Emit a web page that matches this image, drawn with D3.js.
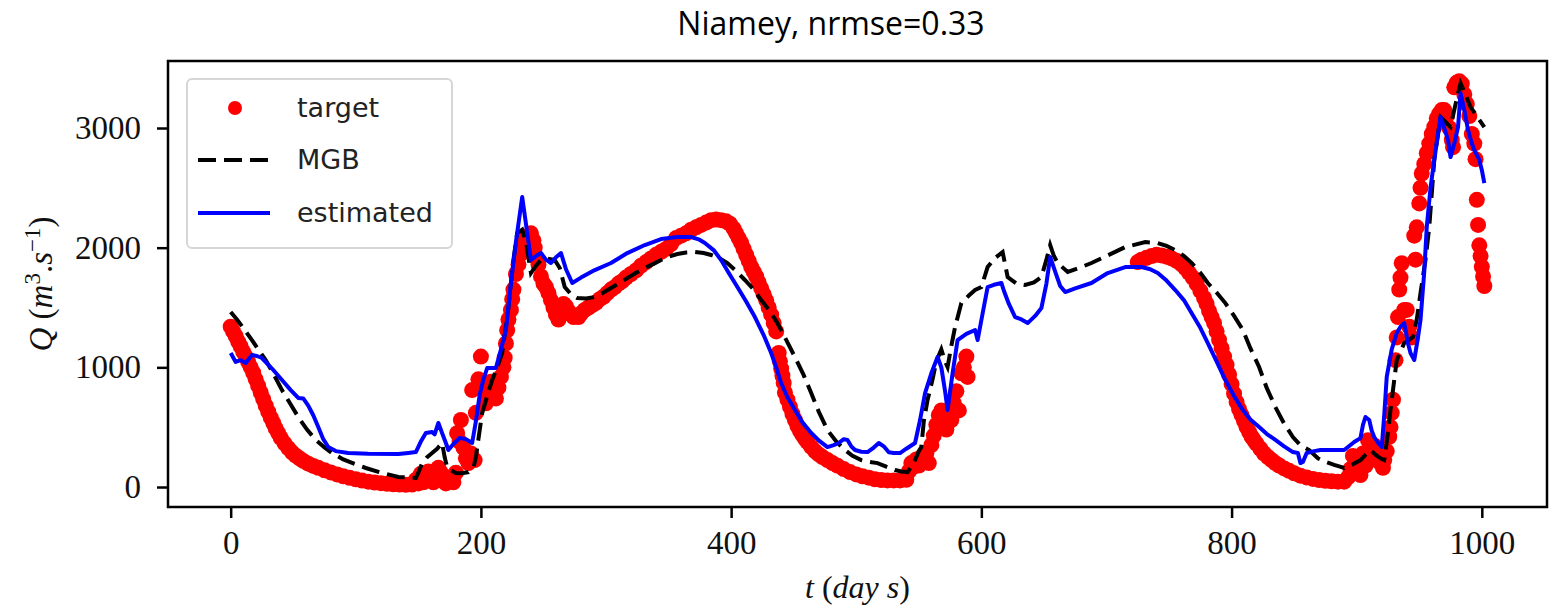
<!DOCTYPE html>
<html>
<head>
<meta charset="utf-8">
<script src="https://cdn.jsdelivr.net/npm/d3@7"></script>
<style>
  body { margin: 0; background: #fff; }
  svg { display: block; }
</style>
</head>
<body>
<div id="chart"></div>
<script>
var target = [
  [0,1340],[2,1300],[4,1260],[6,1215],[8,1175],[10,1130],[12,1090],[14,1045],[16,1000],[18,955],[20,900],[22,845],[24,790],[26,735],[28,680],[30,630],[32,580],[34,535],[36,490],[38,450],[40,410],[43,365],[46,325],[49,290],[52,262],[55,240],[58,218],[62,195],[66,176],[70,160],[75,140],[80,122],[85,105],[90,90],[95,77],[100,65],[105,54],[110,45],[115,38],[120,32],[125,27],[130,23],[135,20],[140,18],[145,20],
  [148,60],[150,30],[152,110],[154,40],[156,90],[158,130],[160,70],[162,40],[164,100],[166,160],[168,120],[170,60],[172,30],[174,50],[176,80],[178,40],[180,120],[181,450],[183,380],[184,560],[186,330],[188,240],[190,200],[192,280],[193,810],[195,225],[196,620],[198,900],[200,1090],[202,850],[204,700],[206,760],[208,880],[210,800],[212,740],[214,830],[216,920],[218,1000],[219,1080],[220,1200],[221,1310],[222,1400],[224,1480],[225,1570],[226,1650],[228,1780],[230,1860],[232,1950],[234,2030],[236,2080],[238,2100],[240,2120],[242,2060],[243,2000],[244,1920],[246,1860],[248,1760],[250,1700],[252,1670],[254,1620],[256,1560],[258,1500],[260,1440],[262,1400],[264,1480],[266,1530],[268,1510],[270,1470],[272,1440],[274,1420],[276,1430],[278,1420],[280,1450],[283,1480],[286,1500],[289,1520],[292,1540],[295,1570],[298,1590],[301,1620],[304,1650],[307,1670],[310,1700],[313,1720],[316,1750],[320,1780],[324,1810],[328,1850],[332,1880],[336,1910],[340,1940],[344,1965],[348,1990],[352,2030],[356,2080],[360,2100],[364,2120],[368,2150],[372,2170],[376,2190],[380,2210],[384,2230],[388,2235],[392,2230],[396,2220],[399,2200],[402,2160],[404,2120],[406,2080],[408,2040],[410,1990],[412,1940],[414,1890],[416,1840],[418,1800],[420,1760],[422,1710],[424,1660],[426,1610],[428,1560],[430,1500],[432,1440],[434,1370],[436,1300],[438,1120],[439,1050],[440,990],[441,930],[442,870],[443,790],[445,730],[447,670],[449,610],[451,560],[453,510],[455,470],[457,435],[459,405],[461,375],[464,335],[467,300],[470,272],[473,250],[477,225],[481,200],[485,178],[490,150],[495,125],[500,105],[505,90],[510,78],[515,65],[520,58],[525,55],[530,55],[535,55],[540,60],
  [542,130],[544,200],[546,170],[548,230],[550,180],[552,250],[554,210],[556,280],[558,200],[560,350],[562,430],[564,520],[566,600],[568,640],[570,560],[572,480],[574,620],[576,560],[578,700],[580,800],[582,640],[584,950],[586,1000],[588,1090],[589,920],
  [725,1880],[728,1900],[732,1915],[736,1930],[740,1940],[744,1935],[748,1925],[752,1910],[756,1890],[760,1860],[763,1830],[766,1790],[769,1750],[772,1700],[775,1640],[778,1580],[780,1530],[782,1470],[784,1420],[786,1370],[788,1300],[790,1230],[792,1160],[794,1090],[796,1020],[798,940],[800,860],[802,780],[804,710],[806,650],[808,600],[810,550],[812,500],[814,460],[816,420],[818,390],[820,360],[823,320],[826,280],[829,250],[832,225],[835,200],[838,180],[842,155],[846,135],[850,115],[855,95],[860,80],[865,68],[870,58],[875,52],[880,48],[885,45],[890,45],
  [893,80],[895,150],[897,260],[899,120],[901,200],[903,100],[905,280],[907,180],[909,390],[911,300],[913,230],[915,340],[917,260],[919,200],[921,160],[922,225],[924,300],[926,420],[927,500],[928,620],[929,730],[931,1060],[932,1250],[933,1420],[934,1650],[935,1750],[936,1870],[938,1480],[940,1480],[942,1340],[944,1250],[946,2100],[947,1900],[948,2170],[950,2370],[951,2500],[952,2620],[954,2700],[956,2790],[958,2870],[960,2950],[962,3010],[964,3080],[966,3120],[968,3150],[970,3150],[972,3100],[974,3000],[976,2900],[977,2840],[978,3340],[980,3380],[982,3390],[984,3370],[986,3280],[988,3200],[990,3100],[992,2950],[994,2870],[995,2740],[996,2400],[997,2190],[998,2020],[999,1930],[1000,1840],[1001,1760],[1002,1680]
];

// MGB model run
var mgb = [
  [0,1462],[5,1400],[10,1330],[17,1228],[22,1150],[28,1061],[35,930],[41,810],[48,690],[54,585],[61,480],[68,393],[75,330],[81,284],[90,230],[100,190],[108,159],[120,120],[134,84],[148,75],[150,120],[153,200],[157,250],[161,284],[165,320],[169,368],[171,250],[173,167],[176,140],[180,117],[185,115],[190,125],[194,160],[196,250],[198,400],[201,618],[205,760],[209,894],[213,1000],[217,1120],[222,1500],[226,1900],[229,2122],[233,2150],[236,2050],[240,1788],[244,1850],[248,1897],[253,1910],[259,1897],[263,1830],[267,1671],[272,1610],[277,1579],[284,1575],[291,1588],[297,1620],[304,1663],[310,1700],[317,1746],[324,1790],[331,1830],[338,1865],[344,1897],[350,1925],[357,1947],[364,1960],[371,1964],[378,1955],[384,1939],[391,1910],[397,1872],[404,1805],[411,1730],[418,1650],[424,1562],[431,1470],[437,1370],[444,1230],[451,1086],[458,935],[464,785],[470,630],[477,476],[484,380],[491,309],[497,260],[504,225],[510,210],[517,200],[524,170],[531,142],[536,130],[541,125],[544,170],[547,225],[550,300],[552,334],[554,550],[557,727],[561,900],[564,1050],[568,1150],[571,1050],[573,1003],[576,1180],[579,1337],[584,1537],[590,1600],[595,1646],[600,1671],[605,1838],[611,1914],[617,1964],[621,1755],[628,1700],[635,1688],[642,1710],[648,1755],[652,1900],[655,2022],[658,1930],[661,1872],[669,1797],[678,1830],[688,1872],[700,1930],[715,2005],[731,2047],[741,2039],[748,2015],[755,1980],[762,1930],[768,1872],[775,1790],[781,1705],[788,1625],[795,1537],[802,1430],[809,1312],[815,1160],[822,1003],[828,830],[835,668],[842,530],[849,418],[855,350],[862,309],[869,240],[875,210],[882,185],[890,159],[897,190],[903,225],[908,280],[911,309],[915,270],[919,240],[922,225],[925,450],[927,643],[932,1061],[938,1203],[945,1253],[948,1400],[951,1621],[955,1900],[958,2173],[962,2733],[967,3092],[971,3050],[975,3008],[979,3200],[983,3375],[987,3280],[991,3175],[996,3100],[1002,3008]
];

// estimated discharge
var estimated = [
  [0,1120],[4,1045],[8,1060],[12,1036],[17,1103],[21,1095],[25,1078],[33,990],[41,894],[48,810],[54,744],[58,740],[62,680],[66,600],[70,501],[74,400],[78,334],[84,300],[94,284],[110,278],[134,276],[142,285],[148,292],[152,380],[156,451],[161,460],[163,440],[166,535],[169,450],[172,368],[174,309],[178,360],[183,409],[188,400],[193,368],[196,550],[199,769],[202,900],[205,994],[212,994],[216,1150],[220,1312],[224,1705],[228,2050],[233,2423],[236,2200],[240,1897],[244,1930],[248,1955],[252,1900],[256,1872],[260,1920],[264,1955],[268,1820],[273,1705],[280,1750],[291,1813],[304,1872],[317,1955],[331,2022],[344,2072],[357,2089],[368,2089],[374,2070],[379,2039],[386,1980],[392,1897],[398,1790],[405,1671],[412,1550],[419,1420],[426,1270],[432,1120],[436,1000],[440,869],[445,750],[451,643],[457,540],[464,451],[470,390],[477,334],[482,350],[486,368],[490,400],[493,393],[496,340],[499,309],[504,295],[509,292],[514,330],[518,368],[522,340],[526,290],[530,284],[535,284],[540,320],[547,368],[551,560],[555,785],[560,950],[565,1086],[568,1000],[571,800],[573,643],[577,950],[581,1228],[588,1280],[595,1312],[597,1228],[601,1450],[605,1671],[610,1690],[616,1705],[618,1640],[622,1530],[627,1420],[632,1400],[637,1370],[643,1430],[648,1496],[652,1700],[655,1922],[659,1800],[663,1680],[667,1629],[675,1660],[688,1705],[701,1788],[715,1838],[728,1838],[735,1820],[741,1788],[748,1725],[755,1646],[762,1560],[768,1454],[775,1330],[781,1203],[788,1050],[795,894],[802,760],[809,643],[815,565],[822,501],[828,445],[835,393],[842,340],[849,292],[853,284],[855,200],[857,209],[860,284],[866,300],[871,309],[880,310],[890,309],[898,376],[903,409],[905,520],[907,585],[910,560],[912,470],[914,418],[917,370],[920,334],[922,600],[924,920],[928,1150],[932,1287],[935,1340],[938,1370],[941,1200],[943,1120],[946,1061],[949,1250],[951,1395],[954,1800],[956,2173],[959,2500],[962,2733],[965,2950],[967,3092],[970,3000],[973,2900],[975,2757],[978,2870],[981,3008],[983,3292],[986,3150],[989,2983],[992,2870],[994,2816],[998,2733],[1000,2650],[1002,2540]
];

var xTicks = [0, 200, 400, 600, 800, 1000];
var yTicks = [0, 1000, 2000, 3000];
var legendLabels = ['target', 'MGB', 'estimated'];

var width = 1555, height = 613;
var plot = { left: 168, right: 1547, top: 61, bottom: 507 };
var serif = "'Liberation Serif', 'DejaVu Serif', serif";

var svg = d3.select('#chart').append('svg')
    .attr('width', width)
    .attr('height', height);

var x = d3.scaleLinear().domain([-50.1, 1052.1]).range([plot.left, plot.right]);
var y = d3.scaleLinear().domain([-167, 3560]).range([plot.bottom, plot.top]);

// title
svg.append('text')
    .attr('x', 831).attr('y', 35)
    .attr('text-anchor', 'middle')
    .attr('font-family', "'Open Sans', sans-serif")
    .attr('font-size', 32)
    .attr('fill', '#000')
    .text('Niamey, nrmse=0.33');

// clip for the marks
svg.append('defs').append('clipPath').attr('id', 'clip')
    .append('rect')
    .attr('x', plot.left).attr('y', plot.top)
    .attr('width', plot.right - plot.left).attr('height', plot.bottom - plot.top);

var marks = svg.append('g').attr('clip-path', 'url(#clip)');

// target scatter
marks.append('g').selectAll('circle')
    .data(target)
    .enter().append('circle')
    .attr('cx', function (d) { return x(d[0]); })
    .attr('cy', function (d) { return y(d[1]); })
    .attr('r', 8)
    .attr('fill', '#ff0000');

var line = d3.line()
    .x(function (d) { return x(d[0]); })
    .y(function (d) { return y(d[1]); });

// MGB dashed
marks.append('path')
    .datum(mgb)
    .attr('d', line)
    .attr('fill', 'none')
    .attr('stroke', '#000')
    .attr('stroke-width', 4)
    .attr('stroke-dasharray', '18,8');

// estimated
marks.append('path')
    .datum(estimated)
    .attr('d', line)
    .attr('fill', 'none')
    .attr('stroke', '#0000ff')
    .attr('stroke-width', 4)
    .attr('stroke-linejoin', 'round');

// axes
var gx = svg.append('g')
    .attr('transform', 'translate(0,' + plot.bottom + ')')
    .call(d3.axisBottom(x).tickValues(xTicks).tickSize(11).tickPadding(13).tickFormat(d3.format('d')));
gx.select('.domain').remove();
gx.selectAll('line').attr('stroke', '#000').attr('stroke-width', 2.5);
gx.selectAll('text').attr('font-family', serif).attr('font-size', 33).attr('fill', '#111');

var gy = svg.append('g')
    .attr('transform', 'translate(' + plot.left + ',0)')
    .call(d3.axisLeft(y).tickValues(yTicks).tickSize(11).tickPadding(16).tickFormat(d3.format('d')));
gy.select('.domain').remove();
gy.selectAll('line').attr('stroke', '#000').attr('stroke-width', 2.5);
gy.selectAll('text').attr('font-family', serif).attr('font-size', 33).attr('fill', '#111');

// frame
svg.append('rect')
    .attr('x', plot.left).attr('y', plot.top)
    .attr('width', plot.right - plot.left).attr('height', plot.bottom - plot.top)
    .attr('fill', 'none')
    .attr('stroke', '#000')
    .attr('stroke-width', 2.5);

// axis labels
var xl = svg.append('text')
    .attr('x', (plot.left + plot.right) / 2).attr('y', 598)
    .attr('text-anchor', 'middle')
    .attr('font-family', serif)
    .attr('font-size', 32)
    .attr('fill', '#111');
xl.append('tspan').attr('font-style', 'italic').text('t');
xl.append('tspan').text(' (');
xl.append('tspan').attr('font-style', 'italic').text('day s');
xl.append('tspan').text(')');

var yl = svg.append('text')
    .attr('transform', 'translate(52,284) rotate(-90)')
    .attr('text-anchor', 'middle')
    .attr('font-family', serif)
    .attr('font-size', 33)
    .attr('fill', '#111');
yl.append('tspan').attr('font-style', 'italic').text('Q');
yl.append('tspan').text(' (');
yl.append('tspan').attr('font-style', 'italic').text('m');
yl.append('tspan').attr('font-size', 23).attr('dy', -12).text('3');
yl.append('tspan').attr('dy', 12).text('.');
yl.append('tspan').attr('font-style', 'italic').text('s');
yl.append('tspan').attr('font-size', 23).attr('dy', -12).text('\u22121');
yl.append('tspan').attr('dy', 12).text(')');

// legend
var legend = svg.append('g');
legend.append('rect')
    .attr('x', 187).attr('y', 79)
    .attr('width', 265).attr('height', 169)
    .attr('rx', 5).attr('ry', 5)
    .attr('fill', '#fff').attr('fill-opacity', 0.8)
    .attr('stroke', '#d6d6d6').attr('stroke-width', 2);

var rowY = [108, 160, 213];
legend.append('circle')
    .attr('cx', 235).attr('cy', rowY[0]).attr('r', 7)
    .attr('fill', '#ff0000');
legend.append('line')
    .attr('x1', 198).attr('x2', 270).attr('y1', rowY[1]).attr('y2', rowY[1])
    .attr('stroke', '#000').attr('stroke-width', 4).attr('stroke-dasharray', '18,8');
legend.append('line')
    .attr('x1', 198).attr('x2', 270).attr('y1', rowY[2]).attr('y2', rowY[2])
    .attr('stroke', '#0000ff').attr('stroke-width', 4);

legend.selectAll('text.lab')
    .data(legendLabels)
    .enter().append('text')
    .attr('class', 'lab')
    .attr('x', 297)
    .attr('y', function (d, i) { return rowY[i] + 9; })
    .attr('font-family', "'DejaVu Sans', sans-serif")
    .attr('font-size', 27)
    .attr('fill', '#222')
    .text(function (d) { return d; });
</script>
</body>
</html>
